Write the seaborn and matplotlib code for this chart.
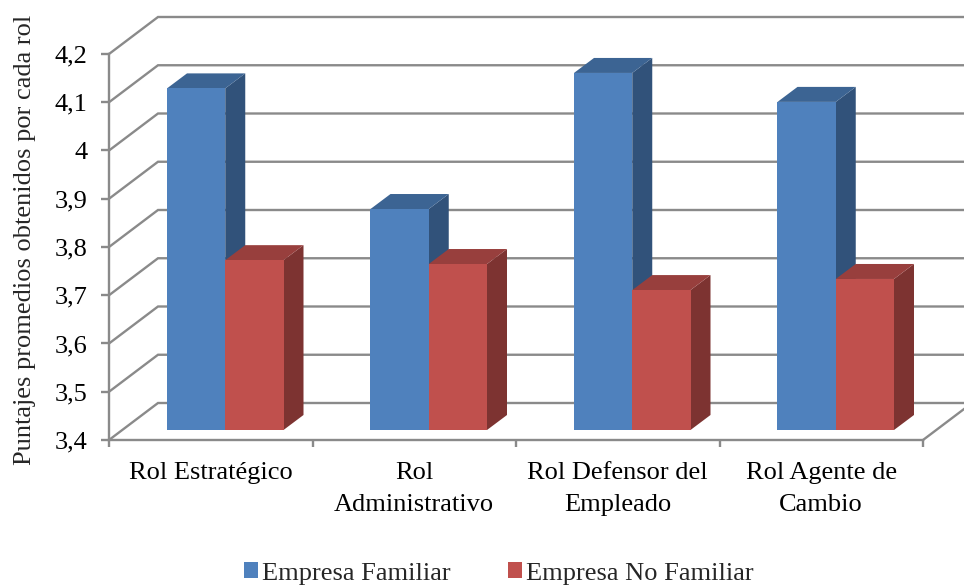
import numpy as np
import pandas as pd
import matplotlib
matplotlib.use("Agg")
import matplotlib.pyplot as plt
from matplotlib.patches import Polygon
from matplotlib.transforms import Affine2D
import seaborn as sns

roles = ["Rol Estratégico", "Rol\nAdministrativo", "Rol Defensor del\nEmpleado", "Rol Agente de\nCambio"]
familiar = [4.108, 3.858, 4.140, 4.080]
no_familiar = [3.752, 3.744, 3.690, 3.713]
series_names = ["Empresa Familiar", "Empresa No Familiar"]
y_ticks = [3.4, 3.5, 3.6, 3.7, 3.8, 3.9, 4.0, 4.1, 4.2]
y_labels = ["3,4", "3,5", "3,6", "3,7", "3,8", "3,9", "4", "4,1", "4,2"]
y_title = "Puntajes promedios obtenidos por cada rol"

FRONT = ["#4F81BD", "#C0504D"]
SIDE = ["#31527A", "#7D3331"]
TOP = ["#3C6493", "#983F3D"]
GRID = "#8A8A8A"
LINE = 1.7

sns.set_theme(style="white")
plt.rcParams["font.family"] = ["Liberation Serif", "DejaVu Serif"]

W, H = 964, 585
fig = plt.figure(figsize=(W / 100, H / 100), dpi=100)
ax = fig.add_axes([109 / W, 1 - 440 / H, (923 - 109) / W, (440 - 54) / H])

df = pd.DataFrame({
    "rol": roles * 2,
    "serie": [series_names[0]] * 4 + [series_names[1]] * 4,
    "valor": familiar + no_familiar,
})
sns.barplot(data=df, x="rol", y="valor", hue="serie", order=roles, hue_order=series_names,
            palette=FRONT, saturation=1, width=0.5725, gap=0, linewidth=0, ax=ax)

ax.set_xlim(-0.5, 3.5)
ax.set_ylim(3.4, 4.2)

# Oblique projection: pixel offsets converted to data units
px_x = 1 / ((923 - 109) / 4)
px_y = 0.8 / (440 - 54)
wall_dx, wall_dy = 49 * px_x, 37 * px_y
depth_dx, depth_dy = 20 * px_x, 15 * px_y
shift = Affine2D().translate(14.5, 10)
plane = ax.transData + shift

# Back wall gridlines and floor edge
for v in y_ticks:
    ax.plot([-0.5, -0.5 + wall_dx, 3.5 + wall_dx], [v, v + wall_dy, v + wall_dy],
            color=GRID, lw=LINE, clip_on=False, zorder=1, solid_joinstyle="miter")
ax.plot([3.5, 3.5 + wall_dx], [3.4, 3.4 + wall_dy], color=GRID, lw=LINE, clip_on=False, zorder=1)

# Extruded bars: the front faces come from the bar plot, sides and tops from their geometry
for i, container in enumerate(ax.containers):
    z = 3 + i
    for bar in container:
        value = bar.get_height()
        bar.set_y(3.4)
        bar.set_height(value - 3.4)
        bar.set_transform(plane)
        bar.set_clip_on(False)
        bar.set_zorder(z + 0.2)
        x0, x1 = bar.get_x(), bar.get_x() + bar.get_width()
        side = [(x1, 3.4), (x1 + depth_dx, 3.4 + depth_dy),
                (x1 + depth_dx, value + depth_dy), (x1, value)]
        top = [(x0, value), (x1, value), (x1 + depth_dx, value + depth_dy), (x0 + depth_dx, value + depth_dy)]
        ax.add_patch(Polygon(side, closed=True, fc=SIDE[i], ec="none", transform=plane, clip_on=False, zorder=z))
        ax.add_patch(Polygon(top, closed=True, fc=TOP[i], ec="none", transform=plane, clip_on=False, zorder=z + 0.1))

for name in ["top", "right"]:
    ax.spines[name].set_visible(False)
for name in ["left", "bottom"]:
    ax.spines[name].set_color(GRID)
    ax.spines[name].set_linewidth(LINE)
    ax.spines[name].set_zorder(2)

FS = 19
ax.set_yticks(y_ticks, y_labels, fontsize=FS, color="black")
ax.set_xticks(range(4), roles, fontsize=FS, color="black", linespacing=1.58, va="top")
ax.set_xticks([-0.5, 0.5, 1.5, 2.5, 3.5], minor=True)
ax.tick_params(axis="x", which="major", length=0, pad=16, bottom=True)
ax.tick_params(axis="x", which="minor", length=5, width=LINE, color=GRID, bottom=True)
ax.tick_params(axis="y", length=6, width=LINE, color=GRID, pad=9.5, left=True)
ax.set_xlabel("")
ax.set_ylabel("")
fig.text(25 / W, 1 - 240 / H, y_title, rotation=90, ha="center", va="center", fontsize=FS)

handles, labels = ax.get_legend_handles_labels()
ax.legend(handles, labels, ncol=2, loc="center", bbox_to_anchor=(499 / W, 1 - 573.5 / H),
          bbox_transform=fig.transFigure, frameon=False, fontsize=FS,
          handlelength=0.53, handleheight=0.53, handletextpad=0.16, columnspacing=2.16,
          borderpad=0, borderaxespad=0)

fig.savefig("out.png", dpi=100)
